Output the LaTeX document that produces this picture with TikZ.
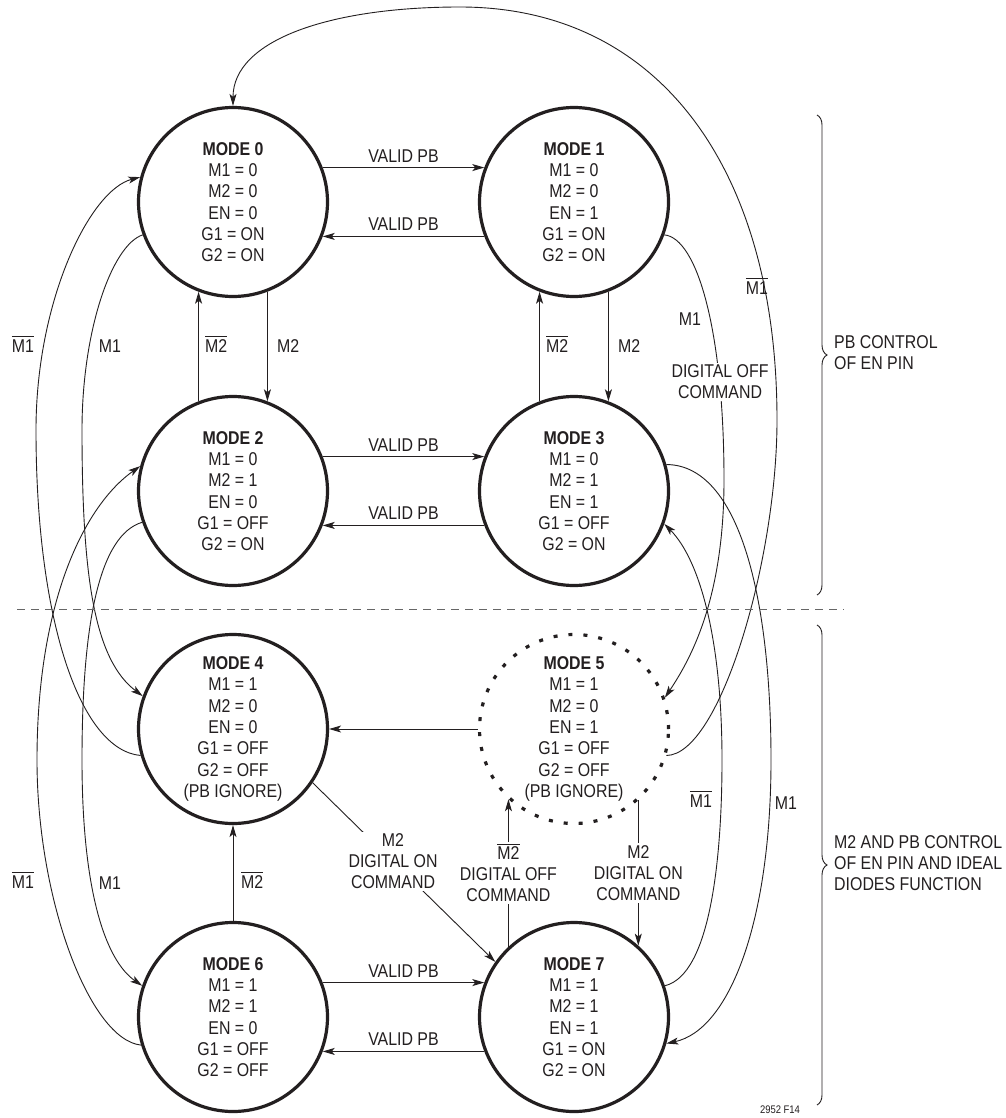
\documentclass[tikz,border=0pt]{standalone}
\usepackage{fontspec}
\setmainfont{Liberation Sans}[FakeStretch=0.86]
\usetikzlibrary{arrows.meta,decorations.pathreplacing}
\definecolor{ink}{HTML}{231F20}
\newcommand{\ovl}[1]{\leavevmode\vbox{\hrule height 1.2pt\kern 1.8pt\hbox{#1}}}
\tikzset{
  modenode/.style={circle, draw=ink, line width=3.2pt, minimum size=189pt, inner sep=0pt,
    align=center, text=ink, font=\fontsize{18.5}{21.3}\selectfont},
  conn/.style={draw=ink, line width=0.9pt},
  arr/.style={conn, -{Stealth[length=12pt,width=7pt,inset=3pt]}},
  lbl/.style={text=ink, font=\fontsize{18.5}{21}\selectfont, inner sep=0pt},
  cmd/.style={lbl, align=center, fill=white, inner sep=2pt},
}
\begin{document}
\begin{tikzpicture}[x=1pt,y=-1pt]
\fill[white] (0,0) rectangle (1005,1118);
\useasboundingbox (0,0) rectangle (1005,1118);

% states
\node[modenode] (m0) at (233,202) {\textbf{MODE 0}\\M1 = 0\\M2 = 0\\EN = 0\\G1 = ON\\G2 = ON};
\node[modenode] (m1) at (574,202) {\textbf{MODE 1}\\M1 = 0\\M2 = 0\\EN = 1\\G1 = ON\\G2 = ON};
\node[modenode] (m2) at (233,491) {\textbf{MODE 2}\\M1 = 0\\M2 = 1\\EN = 0\\G1 = OFF\\G2 = ON};
\node[modenode] (m3) at (574,491) {\textbf{MODE 3}\\M1 = 0\\M2 = 1\\EN = 1\\G1 = OFF\\G2 = ON};
\node[modenode] (m4) at (233,729) {\textbf{MODE 4}\\M1 = 1\\M2 = 0\\EN = 0\\G1 = OFF\\G2 = OFF\\(PB IGNORE)};
\node[modenode, dash pattern=on 4pt off 11pt] (m5) at (574,729) {\textbf{MODE 5}\\M1 = 1\\M2 = 0\\EN = 1\\G1 = OFF\\G2 = OFF\\(PB IGNORE)};
\node[modenode] (m6) at (233,1017) {\textbf{MODE 6}\\M1 = 1\\M2 = 1\\EN = 0\\G1 = OFF\\G2 = OFF};
\node[modenode] (m7) at (574,1017) {\textbf{MODE 7}\\M1 = 1\\M2 = 1\\EN = 1\\G1 = ON\\G2 = ON};

% horizontal VALID PB arrows
\draw[arr] (m0.21) -- node[lbl, above=5pt] (v01) {VALID PB} (m1.159);
\draw[arr] (m1.-159) -- node[lbl, above=5pt] (v10) {VALID PB} (m0.-21);
\draw[arr] (m2.21) -- node[lbl, above=5pt] (v23) {VALID PB} (m3.159);
\draw[arr] (m3.-159) -- node[lbl, above=5pt] (v32) {VALID PB} (m2.-21);
\draw[arr] (m6.21) -- node[lbl, above=5pt] (v67) {VALID PB} (m7.159);
\draw[arr] (m7.-159) -- node[lbl, above=5pt] (v76) {VALID PB} (m6.-21);

% vertical M2 arrows
\draw[arr] (m2.111) -- (m0.-111);
\draw[arr] (m0.-69) -- (m2.69);
\draw[arr] (m3.111) -- (m1.-111);
\draw[arr] (m1.-69) -- (m3.69);
\node[lbl, anchor=base west] (n20) at (205,352) {\ovl{M2}};
\node[lbl, anchor=base west] (n02) at (277,352) {M2};
\node[lbl, anchor=base west] (n31) at (546,352) {\ovl{M2}};
\node[lbl, anchor=base west] (n13) at (618,352) {M2};
\draw[arr] (m6.north) -- (m4.south);
\node[lbl, anchor=base west] (n64) at (241,888) {\ovl{M2}};
\draw[arr] (m5.west) -- (m4.east);

% digital commands
\draw[arr] (m7.133) -- node[cmd] (c75) {\ovl{M2}\\DIGITAL OFF\\COMMAND} (m5.-133);
\draw[arr] (m5.-48) -- node[cmd] (c57) {M2\\DIGITAL ON\\COMMAND} (m7.48);
\draw[arr] (m4.-34) -- node[cmd, pos=0.44] (c47) {M2\\DIGITAL ON\\COMMAND} (m7.145);

% right-side curves
\draw[arr] (m1.-20) .. controls (697,238) and (724,330) .. (724,480)
  .. controls (724,600) and (690,660) .. (m5.19);
\node[cmd] (c15) at (720,382) {DIGITAL OFF\\COMMAND};
\node[lbl, anchor=base] (n15) at (690,325) {M1};
\draw[arr] (m5.-16) .. controls (720,755) and (777,560) .. (777,420)
  .. controls (777,170) and (660,7) .. (460,7)
  .. controls (330,7) and (233,40) .. (m0.north);
\node[lbl, anchor=base] (n50) at (757,294) {\ovl{M1}};
\draw[arr] (m3.16) .. controls (740,465) and (771,600) .. (771,760)
  .. controls (771,920) and (730,1030) .. (m7.-16);
\node[lbl, anchor=base] (n37) at (786,809) {M1};
\draw[arr] (m7.19) .. controls (710,975) and (722,860) .. (722,760)
  .. controls (722,640) and (700,560) .. (m3.-20);
\node[lbl, anchor=base] (n73) at (701,807) {\ovl{M1}};

% left-side curves
\draw[arr] (m4.196) .. controls (80,750) and (36,620) .. (36,430)
  .. controls (36,300) and (90,190) .. (m0.165);
\node[lbl, anchor=base] (n40) at (23,352) {\ovl{M1}};
\draw[arr] (m0.200) .. controls (112,245) and (82,330) .. (82,430)
  .. controls (82,580) and (95,660) .. (m4.160);
\node[lbl, anchor=base] (n04) at (110,352) {M1};
\draw[arr] (m6.197) .. controls (90,1040) and (37,900) .. (37,760)
  .. controls (37,600) and (85,505) .. (m2.165);
\node[lbl, anchor=base] (n62) at (23,888) {\ovl{M1}};
\draw[arr] (m2.199) .. controls (100,535) and (82,620) .. (82,760)
  .. controls (82,890) and (105,960) .. (m6.161);
\node[lbl, anchor=base] (n26) at (110,889) {M1};

% separator and braces
\draw[black!60, line width=1pt, dash pattern=on 8pt off 6pt] (17,609) -- (844,609);
\draw[ink, line width=0.9pt, decorate, decoration={brace, amplitude=10pt}] (817,115) -- (817,595);
\draw[ink, line width=0.9pt, decorate, decoration={brace, amplitude=10pt}] (817,625) -- (817,1105);
\node[lbl, anchor=west, align=left] (t1) at (834,353) {PB CONTROL\\OF EN PIN};
\node[lbl, anchor=west, align=left] (t2) at (834,863) {M2 AND PB CONTROL\\OF EN PIN AND IDEAL\\DIODES FUNCTION};
\node[text=ink, font=\fontsize{11}{13}\selectfont, inner sep=0pt] (fig) at (780,1110) {2952 F14};
\end{tikzpicture}
\end{document}
